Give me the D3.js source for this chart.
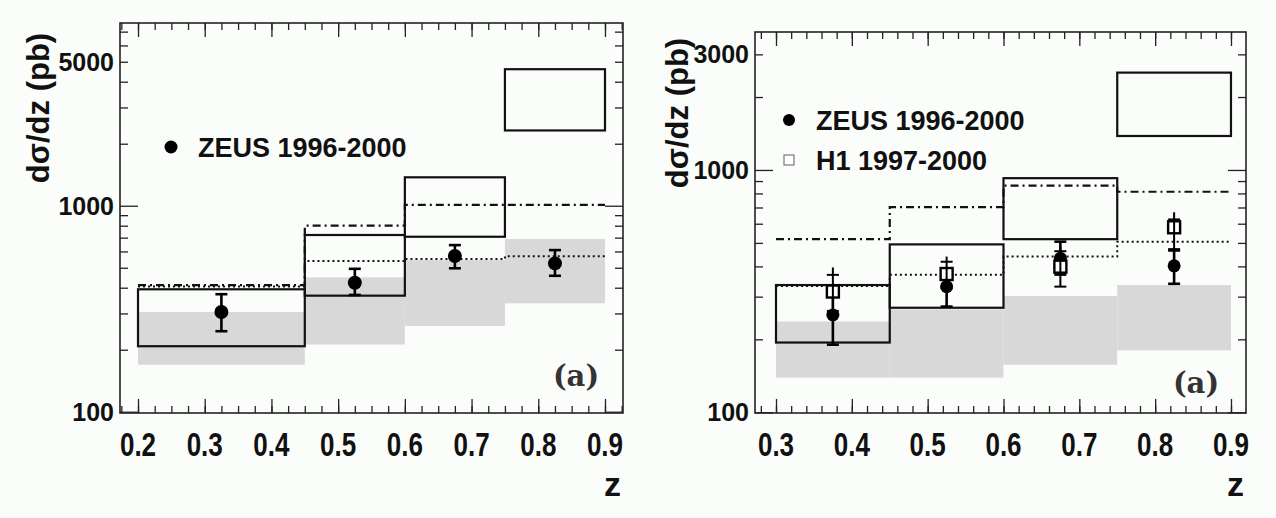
<!DOCTYPE html>
<html>
<head>
<meta charset="utf-8">
<script src="https://cdn.jsdelivr.net/npm/d3@7"></script>
<style>
  body { margin: 0; background: #fbfdfb; }
  svg { display: block; }
</style>
</head>
<body>
<div id="chart"></div>
<script>
// ---- left panel (ZEUS only) ----
var leftEdges    = [0.2, 0.45, 0.6, 0.75, 0.9];
var leftBoxLo    = [208, 366, 707, 2320];
var leftBoxHi    = [393, 721, 1374, 4600];
var leftBandLo   = [169, 212, 261, 336];
var leftBandHi   = [305, 449, 545, 689];
var leftDashDot  = [412, 800, 1010, 1010];
var leftDotted   = [405, 539, 551, 568];
var leftZ        = [0.325, 0.525, 0.675, 0.825];
var leftZeus     = [305, 423, 570, 525];
var leftZeusLo   = [246, 369, 497, 457];
var leftZeusHi   = [372, 494, 644, 609];
var leftXTicks   = [0.2, 0.3, 0.4, 0.5, 0.6, 0.7, 0.8, 0.9];
var leftXLabels  = ["0.2", "0.3", "0.4", "0.5", "0.6", "0.7", "0.8", "0.9"];
var leftYLabels  = [100, 1000, 5000];

// ---- right panel (ZEUS + H1) ----
var rightEdges   = [0.3, 0.45, 0.6, 0.75, 0.9];
var rightBoxLo   = [194, 270, 518, 1381];
var rightBoxHi   = [335, 493, 925, 2522];
var rightBandLo  = [139, 139, 157, 180];
var rightBandHi  = [237, 266, 302, 335];
var rightDashDot = [518, 702, 861, 813];
var rightDotted  = [332, 369, 439, 506];
var rightZ       = [0.375, 0.525, 0.675, 0.825];
var rightZeus    = [252, 330, 432, 402];
var rightZeusLo  = [190, 273, 370, 339];
var rightZeusHi  = [330, 390, 506, 470];
var rightH1      = [315, 372, 399, 580];
var rightH1Lo    = [262, 325, 330, 464];
var rightH1Hi    = [396, 439, 480, 669];
var rightH1Stat  = [369, 418, 462, 625];
var rightXTicks  = [0.3, 0.4, 0.5, 0.6, 0.7, 0.8, 0.9];
var rightXLabels = ["0.3", "0.4", "0.5", "0.6", "0.7", "0.8", "0.9"];
var rightYLabels = [100, 1000, 3000];

var d3;

const W = 1276, H = 518;
const sans = "'Liberation Sans', Arial, Helvetica, sans-serif";

var svg = d3.select("#chart").append("svg")
  .attr("width", W).attr("height", H);

function drawPanel(p) {
  var x = d3.scaleLinear().domain(p.xDomain).range([p.l, p.r]);
  var y = d3.scaleLog().domain(p.yDomain).range([p.b, p.t]);
  var g = svg.append("g");
  var nb = p.edges.length - 1;
  var bins = d3.range(nb);

  // grey band
  g.selectAll("rect.band").data(bins).enter().append("rect")
    .attr("x", function(i) { return x(p.edges[i]); })
    .attr("width", function(i) { return x(p.edges[i + 1]) - x(p.edges[i]); })
    .attr("y", function(i) { return y(p.bandHi[i]); })
    .attr("height", function(i) { return y(p.bandLo[i]) - y(p.bandHi[i]); })
    .style("fill", "#d8d8d8");

  // step histograms (dash-dot and dotted)
  function stepPts(vals) {
    var pts = [];
    bins.forEach(function(i) {
      pts.push([p.edges[i], vals[i]]);
      pts.push([p.edges[i + 1], vals[i]]);
    });
    return pts;
  }
  var line = d3.line()
    .x(function(d) { return x(d[0]); })
    .y(function(d) { return y(d[1]); });

  g.append("path").attr("d", line(stepPts(p.dashDot)))
    .style("fill", "none").style("stroke", "#111")
    .style("stroke-width", 2.2).style("stroke-dasharray", "8,4,2,4");
  g.append("path").attr("d", line(stepPts(p.dotted)))
    .style("fill", "none").style("stroke", "#111")
    .style("stroke-width", 2).style("stroke-dasharray", "2,3");

  // open boxes
  g.selectAll("rect.box").data(bins).enter().append("rect")
    .attr("x", function(i) { return x(p.edges[i]); })
    .attr("width", function(i) { return x(p.edges[i + 1]) - x(p.edges[i]); })
    .attr("y", function(i) { return y(p.boxHi[i]); })
    .attr("height", function(i) { return y(p.boxLo[i]) - y(p.boxHi[i]); })
    .style("fill", "none").style("stroke", "#111").style("stroke-width", 2.2);

  // ZEUS points
  bins.forEach(function(i) {
    var cx = x(p.z[i]);
    g.append("line").attr("x1", cx).attr("x2", cx)
      .attr("y1", y(p.zeusLo[i])).attr("y2", y(p.zeusHi[i]))
      .style("stroke", "#000").style("stroke-width", 2.6);
    [p.zeusLo[i], p.zeusHi[i]].forEach(function(v) {
      g.append("line").attr("x1", cx - 6).attr("x2", cx + 6)
        .attr("y1", y(v)).attr("y2", y(v))
        .style("stroke", "#000").style("stroke-width", 2.6);
    });
    g.append("circle").attr("cx", cx).attr("cy", y(p.zeus[i]))
      .attr("r", p.dotR).style("fill", "#000");
  });

  // H1 points
  if (p.h1) {
    bins.forEach(function(i) {
      var cx = x(p.z[i]);
      g.append("rect").attr("x", cx - 6).attr("y", y(p.h1[i]) - 6)
        .attr("width", 12).attr("height", 12)
        .style("fill", "#fff").style("stroke", "#000").style("stroke-width", 2.4);
      g.append("line").attr("x1", cx).attr("x2", cx)
        .attr("y1", y(p.h1Lo[i])).attr("y2", y(p.h1Hi[i]))
        .style("stroke", "#000").style("stroke-width", 2);
      [p.h1Lo[i], p.h1Stat[i]].forEach(function(v) {
        g.append("line").attr("x1", cx - 6).attr("x2", cx + 6)
          .attr("y1", y(v)).attr("y2", y(v))
          .style("stroke", "#000").style("stroke-width", 2);
      });
    });
  }

  // ticks
  var minorX = d3.range(0, 1.0001, p.minorStep)
    .filter(function(v) { return v > p.xDomain[0] && v < p.xDomain[1]; });
  var minorY = [200, 300, 400, 500, 600, 700, 800, 900,
                2000, 3000, 4000, 5000, 6000, 7000]
    .filter(function(v) { return v > p.yDomain[0] && v < p.yDomain[1]; });

  function addAxis(axis, tr) {
    var a = g.append("g").attr("transform", tr).call(axis);
    a.select(".domain").remove();
    a.selectAll(".tick line").style("stroke", "#222").style("stroke-width", 1.3);
  }
  addAxis(d3.axisBottom(x).tickValues(p.xTicks).tickSize(-14).tickFormat(""), "translate(0," + p.b + ")");
  addAxis(d3.axisBottom(x).tickValues(minorX).tickSize(-7).tickFormat(""), "translate(0," + p.b + ")");
  addAxis(d3.axisTop(x).tickValues(p.xTicks).tickSize(-14).tickFormat(""), "translate(0," + p.t + ")");
  addAxis(d3.axisTop(x).tickValues(minorX).tickSize(-7).tickFormat(""), "translate(0," + p.t + ")");
  addAxis(d3.axisLeft(y).tickValues([100, 1000]).tickSize(-18).tickFormat(""), "translate(" + p.l + ",0)");
  addAxis(d3.axisLeft(y).tickValues(minorY).tickSize(-8).tickFormat(""), "translate(" + p.l + ",0)");
  addAxis(d3.axisRight(y).tickValues([100, 1000]).tickSize(-18).tickFormat(""), "translate(" + p.r + ",0)");
  addAxis(d3.axisRight(y).tickValues(minorY).tickSize(-8).tickFormat(""), "translate(" + p.r + ",0)");

  // frame
  g.append("rect").attr("x", p.l).attr("y", p.t)
    .attr("width", p.r - p.l).attr("height", p.b - p.t)
    .style("fill", "none").style("stroke", "#222").style("stroke-width", 1.6);

  // x tick labels (tall, narrow look)
  p.xTicks.forEach(function(v, i) {
    g.append("text")
      .attr("transform", "translate(" + x(v) + "," + (p.b + 43) + ") scale(1,1.25)")
      .style("text-anchor", "middle").style("font-family", sans)
      .style("font-weight", "bold").style("font-size", "26px").style("fill", "#111")
      .text(p.xLabels[i]);
  });
  // y tick labels
  p.yLabels.forEach(function(v) {
    g.append("text").attr("x", p.l - 6).attr("y", y(v) + 9)
      .style("text-anchor", "end").style("font-family", sans)
      .style("font-weight", "bold").style("font-size", "25px").style("fill", "#111")
      .text(v);
  });

  // axis titles
  g.append("text")
    .attr("transform", "translate(" + p.ytx + "," + p.yty + ") rotate(-90)")
    .style("text-anchor", "middle").style("font-family", sans)
    .style("font-weight", "bold").style("font-size", "31px").style("fill", "#111")
    .text("d\u03C3/dz (pb)");
  g.append("text").attr("x", p.r - 2).attr("y", p.b + 83)
    .style("text-anchor", "end").style("font-family", sans)
    .style("font-weight", "bold").style("font-size", "34px").style("fill", "#111")
    .text("z");

  // (a)
  g.append("text").attr("x", p.ax).attr("y", p.ay)
    .style("text-anchor", "middle").style("font-family", "'DejaVu Serif', serif")
    .style("font-weight", "bold").style("font-size", "29px").style("fill", "#333")
    .text("(a)");

  // legend
  g.append("circle").attr("cx", p.legX).attr("cy", p.legY).attr("r", p.dotR - 0.5)
    .style("fill", "#000");
  g.append("text").attr("x", p.legX + 27).attr("y", p.legY + 10)
    .style("font-family", sans).style("font-weight", "bold")
    .style("font-size", "27px").style("fill", "#111")
    .text("ZEUS 1996-2000");
  if (p.h1) {
    g.append("rect").attr("x", p.legX - 5).attr("y", p.legY + 35)
      .attr("width", 10).attr("height", 10)
      .style("fill", "#fff").style("stroke", "#777").style("stroke-width", 1.2);
    g.append("text").attr("x", p.legX + 27).attr("y", p.legY + 50)
      .style("font-family", sans).style("font-weight", "bold")
      .style("font-size", "27px").style("fill", "#111")
      .text("H1 1997-2000");
  }
}

drawPanel({
  l: 120, r: 623, t: 23, b: 413,
  xDomain: [0.173, 0.927], yDomain: [98.6, 7710], minorStep: 0.025,
  edges: leftEdges, boxLo: leftBoxLo, boxHi: leftBoxHi,
  bandLo: leftBandLo, bandHi: leftBandHi,
  dashDot: leftDashDot, dotted: leftDotted,
  z: leftZ, zeus: leftZeus, zeusLo: leftZeusLo, zeusHi: leftZeusHi,
  xTicks: leftXTicks, xLabels: leftXLabels, yLabels: leftYLabels,
  dotR: 7, ytx: 49, yty: 108, ax: 576, ay: 386,
  legX: 171, legY: 147
});

drawPanel({
  l: 755, r: 1246, t: 32, b: 413,
  xDomain: [0.2723, 0.9198], yDomain: [99.3, 3710], minorStep: 0.02,
  edges: rightEdges, boxLo: rightBoxLo, boxHi: rightBoxHi,
  bandLo: rightBandLo, bandHi: rightBandHi,
  dashDot: rightDashDot, dotted: rightDotted,
  z: rightZ, zeus: rightZeus, zeusLo: rightZeusLo, zeusHi: rightZeusHi,
  h1: rightH1, h1Lo: rightH1Lo, h1Hi: rightH1Hi, h1Stat: rightH1Stat,
  xTicks: rightXTicks, xLabels: rightXLabels, yLabels: rightYLabels,
  dotR: 6.5, ytx: 688, yty: 113, ax: 1196, ay: 393,
  legX: 789, legY: 120
});
</script>
</body>
</html>
